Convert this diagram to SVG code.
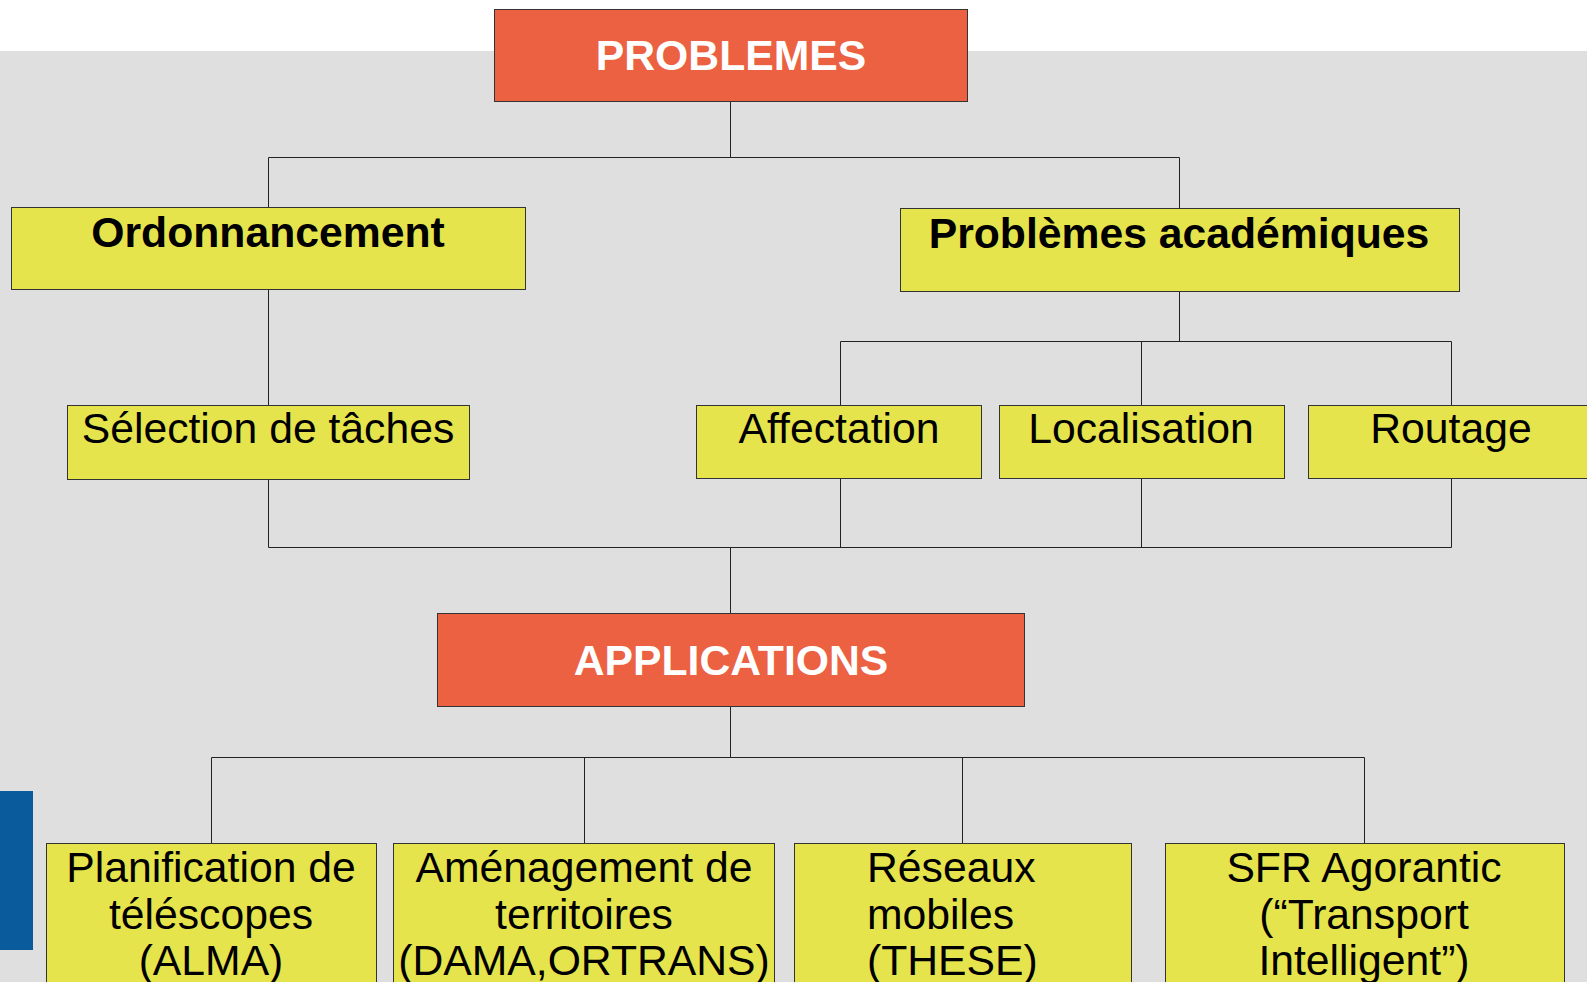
<svg xmlns="http://www.w3.org/2000/svg" width="1587" height="982" viewBox="0 0 1587 982">
<style>
.bg{fill:#dfdfdf}
.red{fill:#eb6142;stroke:#333;stroke-width:1}
.yel{fill:#e6e44c;stroke:#333;stroke-width:1}
.tw{font-family:"Liberation Sans",Arial,sans-serif;font-size:42.7px;font-weight:bold;fill:#fff;text-anchor:middle}
.tb{font-family:"Liberation Sans",Arial,sans-serif;font-size:42.7px;font-weight:bold;fill:#000;text-anchor:middle}
.tr{font-family:"Liberation Sans",Arial,sans-serif;font-size:42.7px;fill:#000;text-anchor:middle}
.tl{font-family:"Liberation Sans",Arial,sans-serif;font-size:42.7px;fill:#000;text-anchor:start}
.con{fill:none;stroke:#222;stroke-width:1}
</style>
<rect x="0" y="0" width="1587" height="982" fill="#fff"/>
<rect class="bg" x="0" y="51" width="1587" height="931"/>
<rect x="0" y="791" width="33" height="159" fill="#0a5b9b"/>
<g id="connectors">
<path class="con" d="M730.5 102V157.5M268.5 207V157.5H1179.5V208"/>
<path class="con" d="M268.5 290V405"/>
<path class="con" d="M1179.5 291V341.5M840.5 405V341.5H1451.5V405M1141.5 341.5V405"/>
<path class="con" d="M268.5 480V547.5H1451.5V479M840.5 479V547.5M1141.5 479V547.5M730.5 547.5V613"/>
<path class="con" d="M730.5 706V757.5M211.5 843V757.5H1364.5V843M584.5 757.5V843M962.5 757.5V843"/>
</g>
<g id="problemes">
<rect class="red" x="494.5" y="9.5" width="473" height="92"/>
<text class="tw" x="731" y="70">PROBLEMES</text>
</g>
<g id="ordonnancement">
<rect class="yel" x="11.5" y="207.5" width="514" height="82"/>
<text class="tb" x="268" y="247">Ordonnancement</text>
</g>
<g id="academiques">
<rect class="yel" x="900.5" y="208.5" width="559" height="83"/>
<text class="tb" x="1179" y="248">Problèmes académiques</text>
</g>
<g id="selection">
<rect class="yel" x="67.5" y="405.5" width="402" height="74"/>
<text class="tr" x="268" y="443">Sélection de tâches</text>
</g>
<g id="affectation">
<rect class="yel" x="696.5" y="405.5" width="285" height="73"/>
<text class="tr" x="839" y="443">Affectation</text>
</g>
<g id="localisation">
<rect class="yel" x="999.5" y="405.5" width="285" height="73"/>
<text class="tr" x="1141" y="443">Localisation</text>
</g>
<g id="routage">
<rect class="yel" x="1308.5" y="405.5" width="300" height="73"/>
<text class="tr" x="1451" y="443">Routage</text>
</g>
<g id="applications">
<rect class="red" x="437.5" y="613.5" width="587" height="93"/>
<text class="tw" x="731" y="675">APPLICATIONS</text>
</g>
<g id="planification">
<rect class="yel" x="46.5" y="843.5" width="330" height="160"/>
<text class="tr" x="211" y="882">Planification de</text>
<text class="tr" x="211" y="929">téléscopes</text>
<text class="tr" x="211" y="975">(ALMA)</text>
</g>
<g id="amenagement">
<rect class="yel" x="393.5" y="843.5" width="381" height="160"/>
<text class="tr" x="584" y="882">Aménagement de</text>
<text class="tr" x="584" y="929">territoires</text>
<text class="tr" x="584" y="975">(DAMA,ORTRANS)</text>
</g>
<g id="reseaux">
<rect class="yel" x="794.5" y="843.5" width="337" height="160"/>
<text class="tl" x="867" y="882">Réseaux</text>
<text class="tl" x="867" y="929">mobiles</text>
<text class="tl" x="867" y="975">(THESE)</text>
</g>
<g id="sfr">
<rect class="yel" x="1165.5" y="843.5" width="399" height="160"/>
<text class="tr" x="1364" y="882">SFR Agorantic</text>
<text class="tr" x="1364" y="929">(“Transport</text>
<text class="tr" x="1364" y="975">Intelligent”)</text>
</g>
</svg>
